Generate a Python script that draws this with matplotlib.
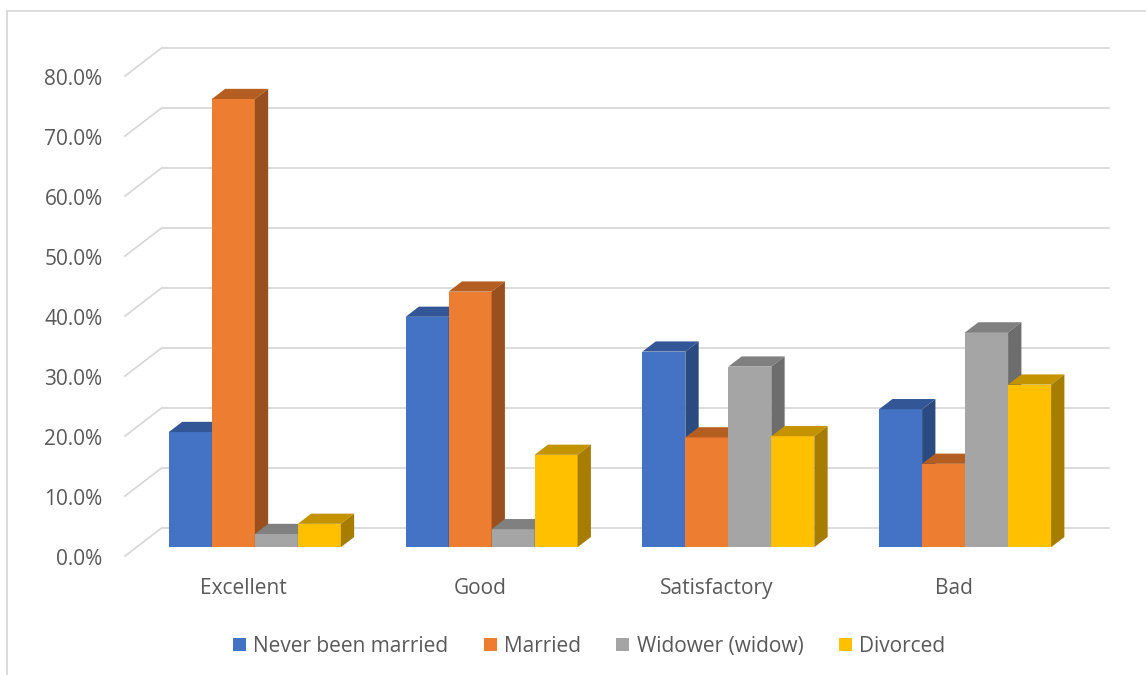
import matplotlib.pyplot as plt
import numpy as np
from matplotlib.patches import Polygon, Patch
from matplotlib.lines import Line2D

plt.rcParams["font.family"] = ["Open Sans", "DejaVu Sans"]

categories = ["Excellent", "Good", "Satisfactory", "Bad"]
series = ["Never been married", "Married", "Widower (widow)", "Divorced"]
never_married = [19.2, 38.4, 32.6, 23.0]
married = [74.7, 42.6, 18.3, 13.9]
widower = [2.2, 3.0, 30.1, 35.8]
divorced = [3.9, 15.4, 18.5, 27.1]
values = [never_married, married, widower, divorced]
yticks = [0, 10, 20, 30, 40, 50, 60, 70, 80]

front_colors = ["#4472C4", "#ED7D31", "#A5A5A5", "#FFC000"]
top_colors = ["#335796", "#B55E22", "#808080", "#C49300"]
side_colors = ["#2B4A80", "#9A4F1E", "#6D6D6D", "#A67D00"]

text_color = "#595959"
grid_color = "#D9D9D9"

# oblique projection: full depth offset in data units
DX, DY = 0.1563, 4.72
z0, z1 = 0.31, 0.67
bw = 0.1816

fig = plt.figure(figsize=(11.46, 6.75), dpi=100)
ax = fig.add_axes([0, 0, 1, 1])
ax.set_xlim(-1.028, 3.8126)
ax.set_ylim(-19.833, 92.667)
ax.axis("off")

# back wall gridlines + left diagonals
for v in yticks:
    ax.plot([-0.5 + DX, 3.5 + DX], [v + DY, v + DY], color=grid_color, lw=1.3, zorder=1)
    ax.plot([-0.5, -0.5 + DX], [v, v + DY], color=grid_color, lw=1.3, zorder=1)
    ax.text(-0.595, v - 0.5, f"{v:.1f}%", ha="right", va="center", fontsize=15, color=text_color)

ox, oy = z0 * DX, z0 * DY
ddx, ddy = (z1 - z0) * DX, (z1 - z0) * DY
x = np.arange(len(categories))
zo = 2
for i in range(len(categories)):
    start = x[i] + ox - 2 * bw
    for j in range(len(series)):
        v = values[j][i]
        xl = start + j * bw
        xr = xl + bw
        ax.bar(xl, v, width=bw, bottom=oy, align="edge", color=front_colors[j],
               lw=0, zorder=zo)
        top = Polygon([(xl, v + oy), (xr, v + oy), (xr + ddx, v + oy + ddy), (xl + ddx, v + oy + ddy)],
                      closed=True, facecolor=top_colors[j], lw=0, zorder=zo)
        side = Polygon([(xr, oy), (xr + ddx, oy + ddy), (xr + ddx, v + oy + ddy), (xr, v + oy)],
                       closed=True, facecolor=side_colors[j], lw=0, zorder=zo)
        ax.add_patch(top)
        ax.add_patch(side)
        zo += 1

for i, c in enumerate(categories):
    ax.text(x[i], -5.4, c, ha="center", va="center", fontsize=15, color=text_color)

handles = [Patch(facecolor=c, edgecolor="none") for c in front_colors]
fig.legend(handles, series, loc="center", bbox_to_anchor=(589 / 1146, 1 - 646.5 / 675),
           ncol=4, frameon=False, fontsize=15, handlelength=0.62, handleheight=0.62,
           handletextpad=0.35, columnspacing=1.7, labelcolor=text_color)

# chart border (only top and left visible)
fig.add_artist(Line2D([7 / 1146, 7 / 1146], [0, 1 - 10.7 / 675], color=grid_color, lw=1.3,
                      transform=fig.transFigure))
fig.add_artist(Line2D([7 / 1146, 1], [1 - 10.7 / 675, 1 - 10.7 / 675], color=grid_color, lw=1.3,
                      transform=fig.transFigure))

fig.savefig("out.png", dpi=100)
